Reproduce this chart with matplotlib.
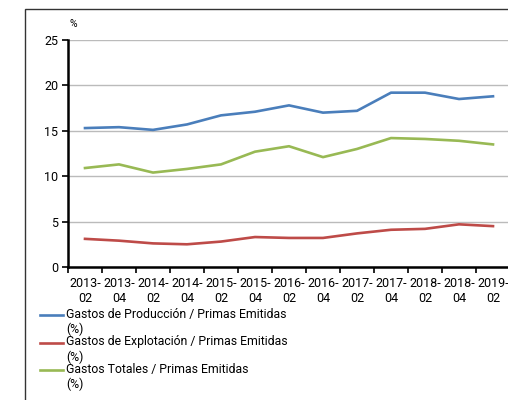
import matplotlib
matplotlib.use("Agg")
import matplotlib.pyplot as plt
from matplotlib.patches import Rectangle
from matplotlib.legend_handler import HandlerLine2D

plt.rcParams['font.family'] = ['Roboto', 'DejaVu Sans']

periods = ["2013-\n02", "2013-\n04", "2014-\n02", "2014-\n04", "2015-\n02", "2015-\n04",
           "2016-\n02", "2016-\n04", "2017-\n02", "2017-\n04", "2018-\n02", "2018-\n04", "2019-\n02"]
produccion = [15.3, 15.4, 15.1, 15.7, 16.7, 17.1, 17.8, 17.0, 17.2, 19.2, 19.2, 18.5, 18.8]
explotacion = [3.1, 2.9, 2.6, 2.5, 2.8, 3.3, 3.2, 3.2, 3.7, 4.1, 4.2, 4.7, 4.5]
totales = [10.9, 11.3, 10.4, 10.8, 11.3, 12.7, 13.3, 12.1, 13.0, 14.2, 14.1, 13.9, 13.5]

labels = ["Gastos de Producción / Primas Emitidas\n(%)",
          "Gastos de Explotación / Primas Emitidas\n(%)",
          "Gastos Totales / Primas Emitidas\n(%)"]
colors = ["#4A7EBB", "#BE4B48", "#98B954"]


class TopLineHandler(HandlerLine2D):
    # put the legend line next to the first text line, not the middle
    def create_artists(self, legend, orig_handle, xdescent, ydescent,
                       width, height, fontsize, trans):
        arts = super().create_artists(legend, orig_handle, xdescent, ydescent,
                                      width, height, fontsize, trans)
        for a in arts:
            y = a.get_ydata()
            a.set_ydata([v + 0.62 * fontsize for v in y])
        return arts


fig = plt.figure(figsize=(5.08, 4.0), dpi=100)
fig.patches.append(Rectangle((25 / 508, -0.1), 1.2, 1 - 9 / 400 + 0.1,
                             transform=fig.transFigure, fill=False,
                             edgecolor="#333333", linewidth=1.0))

ax = fig.add_axes([68 / 508, 1 - 267 / 400, 442 / 508, 227 / 400])
x = list(range(len(periods)))
lines = []
for vals, lab, c in zip([produccion, explotacion, totales], labels, colors):
    ln, = ax.plot(x, vals, color=c, linewidth=1.9, label=lab)
    lines.append(ln)

ax.set_xlim(-0.5, len(periods) - 0.5)
ax.set_ylim(0, 25)
ax.set_yticks([0, 5, 10, 15, 20, 25])
ax.set_xticks(x)
ax.set_xticklabels(periods, fontsize=9, linespacing=1.2)
ax.set_xticks([i - 0.5 for i in range(len(periods) + 1)], minor=True)
ax.tick_params(axis="x", which="major", length=0, pad=7.5)
ax.tick_params(axis="x", which="minor", length=4, width=1.2, color="black")
ax.tick_params(axis="y", length=4, width=1.2, labelsize=9, pad=3)
ax.grid(axis="y", color="#BBBBBB", linewidth=1.0)
ax.set_axisbelow(True)
for s in ["top", "right"]:
    ax.spines[s].set_visible(False)
ax.spines["left"].set_linewidth(1.8)
ax.spines["bottom"].set_linewidth(1.8)
fig.text(73 / 508, 1 - 24 / 400, "%", fontsize=7.5, ha="center", va="center")

leg = fig.legend(handles=lines, labels=labels, loc="upper left",
                 bbox_to_anchor=(40 / 508, 1 - 308 / 400),
                 frameon=False, fontsize=8.8, handlelength=1.9, handletextpad=0.25,
                 labelspacing=-0.1, borderaxespad=0, borderpad=0,
                 handler_map={l: TopLineHandler() for l in lines})
for t in leg.get_texts():
    t.set_linespacing(1.2)

fig.savefig("out.png", dpi=100)
